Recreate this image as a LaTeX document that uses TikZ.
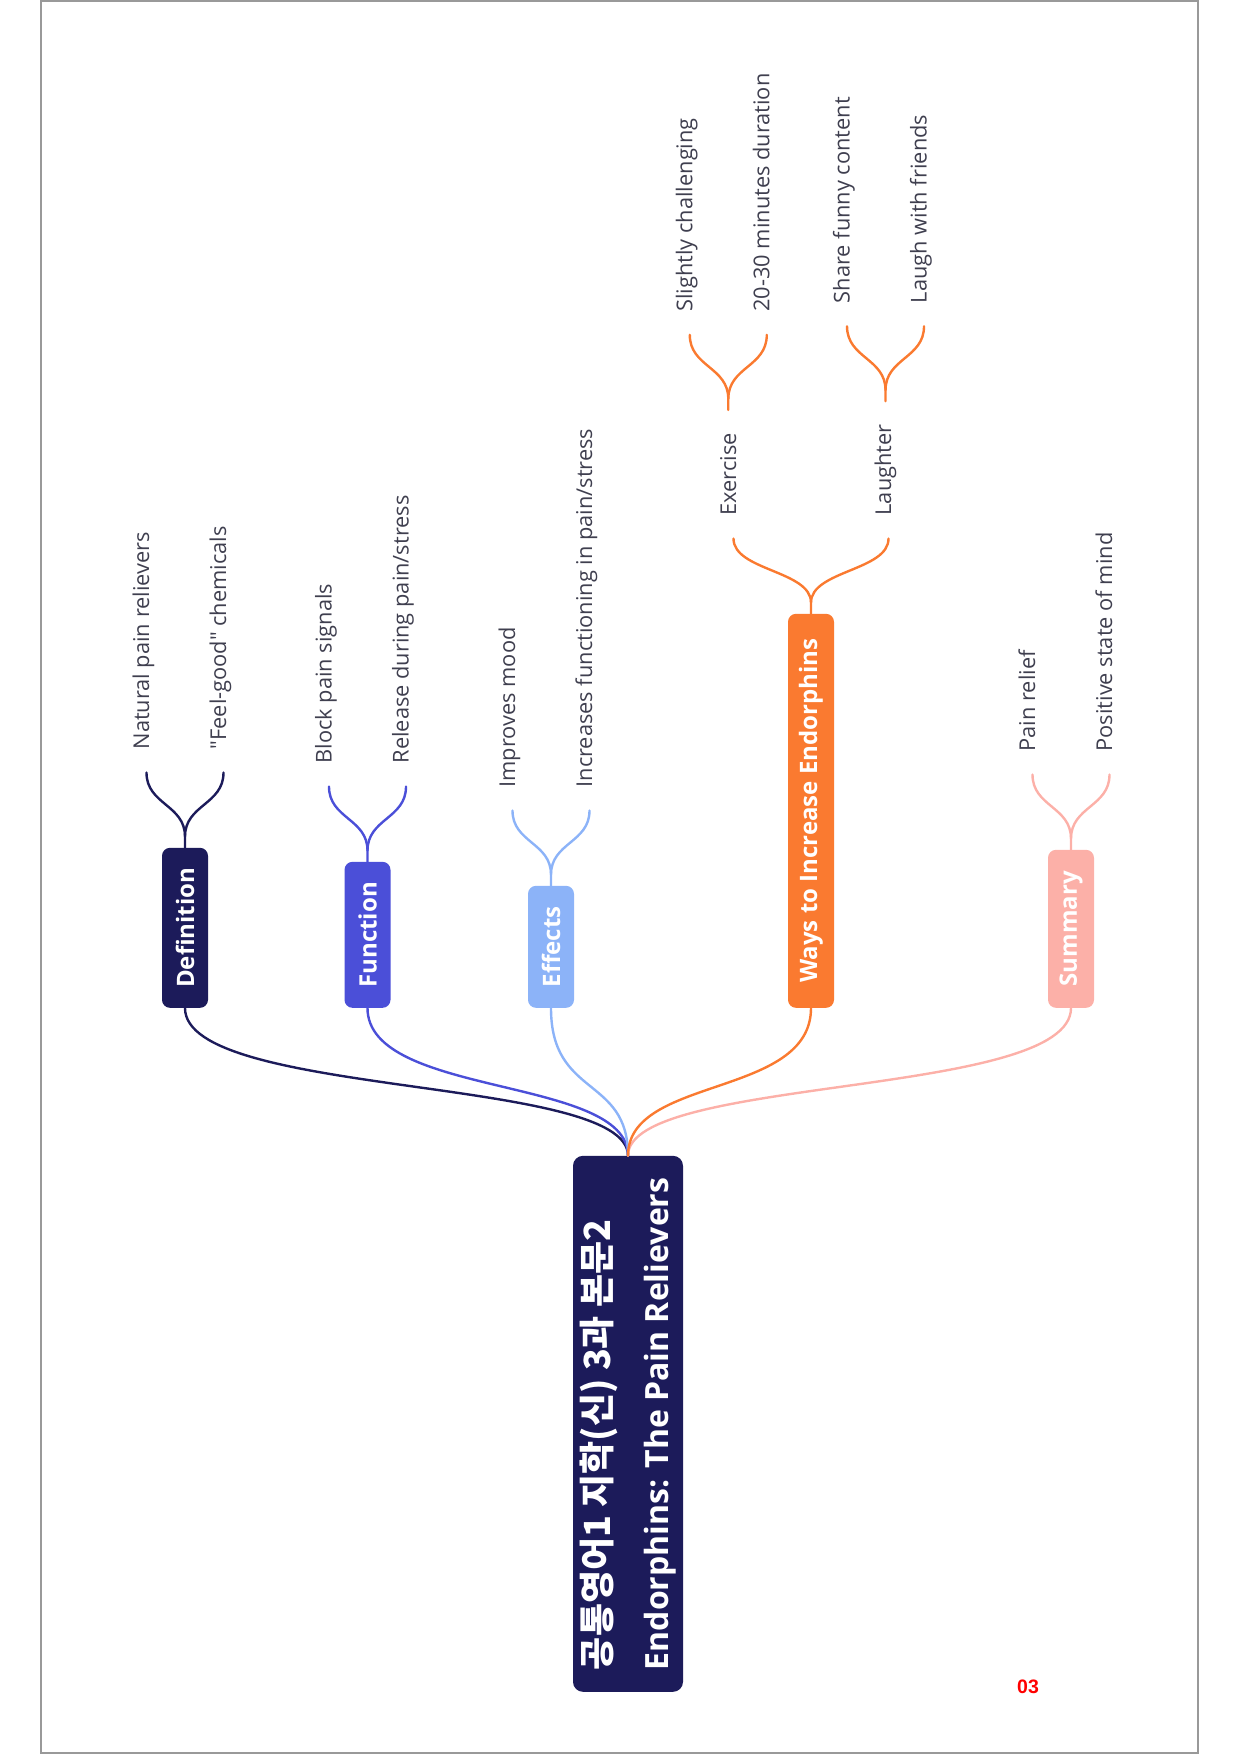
\documentclass[tikz,border=0pt]{standalone}
\usepackage{fontspec}
\setmainfont{Open Sans}[Ligatures=TeXOff]
\newfontfamily\krfont{Noto Sans CJK KR}
\newfontfamily\arialfont{Liberation Sans}
\usetikzlibrary{calc}
\definecolor{navy}{HTML}{1C1B5A}
\definecolor{funcc}{HTML}{4B4FD8}
\definecolor{effc}{HTML}{8CB3F8}
\definecolor{wayc}{HTML}{FA7A30}
\definecolor{sumc}{HTML}{FCB0A8}
\definecolor{leafc}{HTML}{3F3F4F}
\definecolor{bordc}{HTML}{999999}
\begin{document}
\begin{tikzpicture}[x=1pt,y=-1pt,
  box/.style={rounded corners=8pt, rotate=90, anchor=west, minimum height=46pt,
    inner sep=0pt, text=white, font=\bfseries\fontsize{24}{28}\selectfont},
  rootbox/.style={rounded corners=10pt, rotate=90, anchor=west, fill=navy,
    minimum width=536pt, minimum height=110pt, inner sep=0pt, align=left, text=white,
    font=\bfseries\fontsize{32}{58}\selectfont},
  leaf/.style={rotate=90, anchor=mid west, inner xsep=23pt, inner ysep=0pt,
    text=leafc, font=\fontsize{21.8}{26}\selectfont},
  conn/.style={line width=2.4pt, line cap=round},
]
\useasboundingbox (0,0) rectangle (1240,1754);
\draw[bordc, line width=1.5pt] (41,1) rectangle (1198,1753);

% root
\node[rootbox] (root) at (628,1692)
  {{\krfont\bfseries\fontsize{36}{58}\selectfont 공통영어1 지학(신) 3과 본문2}\\
   Endorphins: The Pain Relievers};

% main branches
\node[box, fill=navy,  minimum width=160pt] (def) at (185,1008) {Definition};
\node[box, fill=funcc, minimum width=146pt] (fun) at (367.5,1008) {Function};
\node[box, fill=effc,  minimum width=122pt] (eff) at (551,1008) {Effects};
\node[box, fill=wayc,  minimum width=394pt] (way) at (811,1008) {Ways to Increase Endorphins};
\node[box, fill=sumc,  minimum width=158pt] (sum) at (1071,1008) {Summary};

\draw[conn, navy]  (root.east) .. controls +(0,-80) and +(0,90) .. (def.west);
\draw[conn, funcc] (root.east) .. controls +(0,-80) and +(0,90) .. (fun.west);
\draw[conn, effc]  (root.east) .. controls +(0,-80) and +(0,90) .. (eff.west);
\draw[conn, sumc]  (root.east) .. controls +(0,-80) and +(0,90) .. (sum.west);
\draw[conn, wayc]  (root.east) .. controls +(0,-80) and +(0,90) .. (way.west);

% leaves
\node[leaf] (d1) at ($(def.east)+(-38.5,-75)$) {Natural pain relievers};
\node[leaf] (d2) at ($(def.east)+(38.5,-75)$) {"Feel-good" chemicals};
\node[leaf] (f1) at ($(fun.east)+(-38.5,-75)$) {Block pain signals};
\node[leaf] (f2) at ($(fun.east)+(38.5,-75)$) {Release during pain/stress};
\node[leaf] (e1) at ($(eff.east)+(-38.5,-75)$) {Improves mood};
\node[leaf] (e2) at ($(eff.east)+(38.5,-75)$) {Increases functioning in pain/stress};
\node[leaf] (w1) at ($(way.east)+(-77.5,-75)$) {Exercise};
\node[leaf] (w2) at ($(way.east)+(77.5,-75)$) {Laughter};
\node[leaf] (x1) at ($(w1.east)+(-38.5,-75)$) {Slightly challenging};
\node[leaf] (x2) at ($(w1.east)+(38.5,-75)$) {20-30 minutes duration};
\node[leaf] (l1) at ($(w2.east)+(-38.5,-75)$) {Share funny content};
\node[leaf] (l2) at ($(w2.east)+(38.5,-75)$) {Laugh with friends};
\node[leaf] (s1) at ($(sum.east)+(-38.5,-75)$) {Pain relief};
\node[leaf] (s2) at ($(sum.east)+(38.5,-75)$) {Positive state of mind};

% forks
\foreach \p/\a/\b/\c in {def/d1/d2/navy, fun/f1/f2/funcc, eff/e1/e2/effc,
    way/w1/w2/wayc, w1/x1/x2/wayc, w2/l1/l2/wayc, sum/s1/s2/sumc}{
  \draw[conn, \c] (\p.east) -- ++(0,-11) coordinate (m)
     .. controls +(0,-32) and +(0,32) .. (\a.mid west);
  \draw[conn, \c] (m) .. controls +(0,-32) and +(0,32) .. (\b.mid west);
}

\node[text=red, font=\arialfont\bfseries\fontsize{19.5}{22}\selectfont] (pg) at (1028,1687) {03};
\end{tikzpicture}
\end{document}
